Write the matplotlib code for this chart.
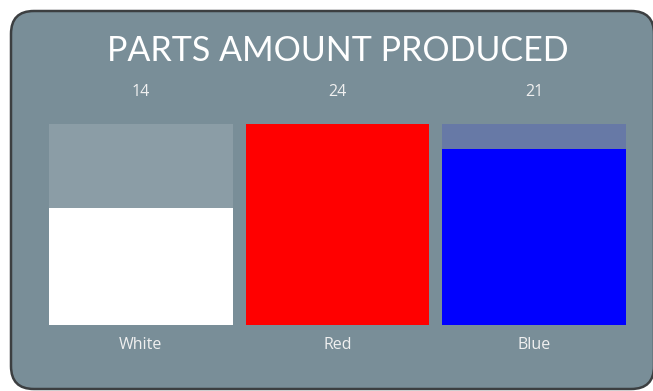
import matplotlib.pyplot as plt
from matplotlib.patches import FancyBboxPatch

categories = ["White", "Red", "Blue"]
values = [14, 24, 21]
bar_colors = ["#ffffff", "#ff0000", "#0000ff"]
track_max = max(values)

W, H = 653, 391
fig = plt.figure(figsize=(W / 100, H / 100), dpi=100)
fig.patch.set_facecolor("white")

# card background (behind the axes)
card = FancyBboxPatch((11 / W, 2 / H), 643 / W, 378 / H,
                      boxstyle="round,pad=0,rounding_size=0.035",
                      transform=fig.transFigure, facecolor="#798e98",
                      edgecolor="#3c3f41", linewidth=1.8, mutation_aspect=W / H,
                      zorder=-5)
fig.patches.append(card)

fig.text(338 / W, 1 - 51 / H, "PARTS AMOUNT PRODUCED", ha="center", va="center",
         color="white", fontsize=24.5, family="Lato")

ax = fig.add_axes([49 / W, 66 / H, 577 / W, 201 / H])
ax.set_facecolor("none")
x = range(len(categories))
ax.bar(x, [track_max] * len(values), width=0.934, color=bar_colors, alpha=0.14)
ax.bar(x, values, width=0.934, color=bar_colors)
ax.set_xlim(-0.467, 2.467)
ax.set_ylim(0, track_max)
ax.axis("off")

for i, (c, v) in enumerate(zip(categories, values)):
    ax.text(i, track_max + 32 / 8.375, str(v), ha="center", va="center",
            color="#f0f0f0", fontsize=11.5, family="Open Sans")
    ax.text(i, -20 / 8.375, c, ha="center", va="center",
            color="#f0f0f0", fontsize=11.5, family="Open Sans")

fig.savefig("out.png", dpi=100)
